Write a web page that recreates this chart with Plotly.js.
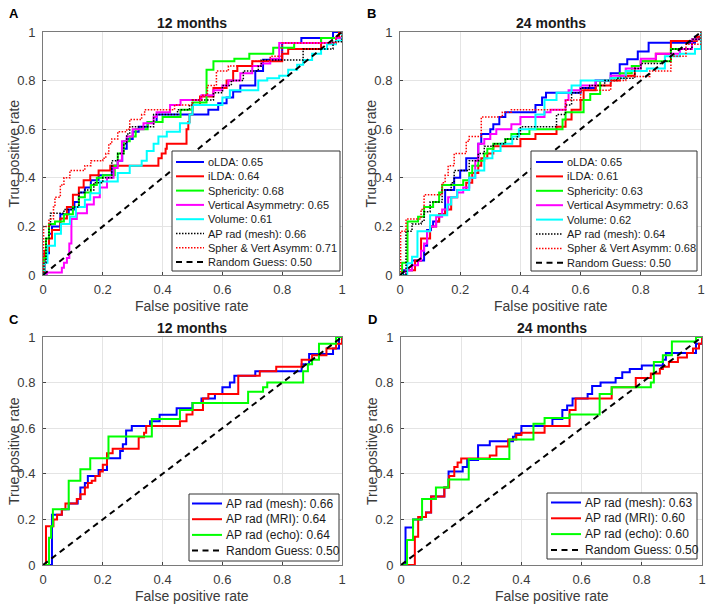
<!DOCTYPE html>
<html>
<head>
<meta charset="utf-8">
<script src="https://cdn.plot.ly/plotly-3.0.1.min.js"></script>
<style>html,body{margin:0;padding:0;background:#fff;}#chart{width:708px;height:609px;}</style>
</head>
<body>
<div id="chart"></div>
<script>
// ---------------- DATA ----------------
// Panel A (12 months) – step ROC curves, points = (FPR reached, TPR after rise)
const fprA_oLDA = [0,0.005,0.02,0.03,0.058,0.086,0.105,0.12,0.14,0.16,0.186,0.23,0.25,0.265,0.28,0.3,0.32,0.35,0.38,0.553,0.586,0.614,0.636,0.66,0.71,0.736,0.8,0.864,0.97,1];
const tprA_oLDA = [0,0.09,0.17,0.2,0.25,0.27,0.3,0.34,0.36,0.39,0.41,0.45,0.47,0.52,0.56,0.59,0.61,0.63,0.66,0.68,0.707,0.73,0.755,0.78,0.84,0.886,0.955,0.975,1,1];
const fprA_iLDA = [0,0.005,0.02,0.03,0.058,0.08,0.1,0.12,0.136,0.158,0.186,0.225,0.386,0.397,0.41,0.414,0.48,0.486,0.49,0.5,0.525,0.57,0.614,0.636,0.65,0.7,0.8,0.82,0.93,0.99,1];
const tprA_iLDA = [0,0.1,0.15,0.185,0.233,0.28,0.33,0.36,0.39,0.41,0.43,0.45,0.48,0.5,0.52,0.54,0.6,0.63,0.66,0.7,0.735,0.77,0.8,0.84,0.86,0.88,0.91,0.93,0.975,1,1];
const fprA_sph = [0,0.003,0.01,0.02,0.04,0.07,0.1,0.12,0.14,0.16,0.18,0.2,0.24,0.25,0.27,0.29,0.31,0.35,0.4,0.46,0.5,0.547,0.57,0.64,0.69,0.77,0.84,0.93,1];
const tprA_sph = [0,0.07,0.15,0.21,0.22,0.25,0.28,0.32,0.34,0.37,0.4,0.41,0.45,0.5,0.55,0.57,0.6,0.63,0.65,0.68,0.71,0.845,0.88,0.89,0.91,0.935,0.955,0.975,1];
const fprA_va = [0,0.013,0.063,0.07,0.08,0.088,0.095,0.113,0.147,0.17,0.19,0.214,0.236,0.25,0.264,0.28,0.3,0.336,0.37,0.38,0.425,0.46,0.53,0.57,0.6,0.62,0.66,0.7,0.73,0.76,0.79,0.98,1];
const tprA_va = [0,0.01,0.03,0.05,0.07,0.13,0.23,0.254,0.29,0.32,0.36,0.4,0.44,0.47,0.55,0.57,0.6,0.625,0.65,0.67,0.7,0.72,0.74,0.76,0.78,0.8,0.83,0.86,0.87,0.89,0.955,0.975,1];
const fprA_vol = [0,0.005,0.015,0.04,0.06,0.09,0.11,0.14,0.158,0.19,0.25,0.29,0.33,0.347,0.37,0.386,0.414,0.458,0.49,0.5,0.6,0.625,0.72,0.75,0.79,0.82,0.85,0.87,0.9,0.93,0.95,0.98,1];
const tprA_vol = [0,0.05,0.12,0.17,0.21,0.24,0.28,0.31,0.336,0.385,0.42,0.45,0.47,0.51,0.54,0.57,0.59,0.625,0.66,0.7,0.73,0.76,0.8,0.81,0.82,0.845,0.865,0.885,0.91,0.93,0.95,0.965,1];
const fprA_ap = [0,0.003,0.01,0.02,0.025,0.07,0.1,0.12,0.14,0.17,0.2,0.23,0.25,0.27,0.28,0.29,0.37,0.45,0.49,0.5,0.57,0.6,0.63,0.67,0.72,0.73,0.87,0.97,1];
const tprA_ap = [0,0.05,0.15,0.2,0.254,0.27,0.28,0.34,0.35,0.38,0.4,0.47,0.5,0.54,0.58,0.61,0.66,0.68,0.7,0.72,0.75,0.78,0.8,0.84,0.86,0.885,0.93,0.96,1];
const fprA_sv = [0,0.002,0.02,0.035,0.04,0.058,0.07,0.09,0.14,0.16,0.2,0.21,0.22,0.23,0.25,0.28,0.29,0.33,0.34,0.44,0.5,0.53,0.55,0.58,0.62,0.7,0.76,0.8,0.98,1];
const tprA_sv = [0,0.2,0.23,0.28,0.32,0.37,0.4,0.43,0.45,0.47,0.48,0.5,0.54,0.56,0.59,0.6,0.64,0.66,0.68,0.7,0.72,0.74,0.78,0.84,0.86,0.88,0.9,0.955,0.98,1];

// Panel B (24 months)
const fprB_oLDA = [0,0.01,0.04,0.08,0.09,0.103,0.11,0.13,0.15,0.18,0.2,0.22,0.26,0.27,0.3,0.31,0.33,0.35,0.45,0.472,0.485,0.6,0.65,0.7,0.73,0.755,0.79,0.826,0.98,1];
const tprB_oLDA = [0,0.02,0.06,0.12,0.185,0.2,0.22,0.25,0.35,0.4,0.43,0.48,0.54,0.58,0.6,0.62,0.65,0.67,0.7,0.73,0.75,0.77,0.8,0.83,0.867,0.888,0.92,0.956,0.98,1];
const fprB_iLDA = [0,0.02,0.05,0.07,0.1,0.12,0.13,0.15,0.17,0.19,0.22,0.24,0.26,0.27,0.29,0.31,0.4,0.45,0.52,0.55,0.57,0.6,0.61,0.65,0.7,0.73,0.78,0.8,0.85,0.9,0.986,1];
const tprB_iLDA = [0,0.02,0.06,0.15,0.2,0.22,0.25,0.27,0.32,0.35,0.38,0.42,0.45,0.48,0.5,0.53,0.56,0.58,0.61,0.64,0.68,0.72,0.76,0.78,0.8,0.82,0.86,0.88,0.91,0.963,0.98,1];
const fprB_sph = [0,0.007,0.025,0.06,0.08,0.11,0.13,0.14,0.21,0.23,0.24,0.26,0.28,0.29,0.31,0.35,0.37,0.43,0.54,0.55,0.61,0.632,0.665,0.7,0.73,0.77,0.8,0.9,0.97,1];
const tprB_sph = [0,0.05,0.22,0.24,0.28,0.3,0.34,0.37,0.39,0.42,0.45,0.47,0.5,0.52,0.54,0.56,0.58,0.6,0.64,0.67,0.72,0.745,0.8,0.81,0.83,0.86,0.88,0.93,0.97,1];
const fprB_va = [0,0.02,0.04,0.06,0.07,0.08,0.09,0.1,0.12,0.14,0.16,0.19,0.21,0.23,0.25,0.26,0.28,0.3,0.32,0.37,0.4,0.48,0.5,0.55,0.56,0.6,0.65,0.7,0.75,0.8,0.85,0.93,0.97,1];
const tprB_va = [0,0.02,0.04,0.06,0.1,0.13,0.18,0.2,0.24,0.27,0.32,0.34,0.36,0.4,0.47,0.54,0.56,0.58,0.6,0.62,0.65,0.67,0.68,0.72,0.76,0.78,0.8,0.82,0.85,0.89,0.91,0.93,0.97,1];
const fprB_vol = [0,0.024,0.04,0.058,0.1,0.157,0.17,0.19,0.23,0.25,0.28,0.307,0.334,0.373,0.395,0.45,0.48,0.52,0.57,0.6,0.7,0.75,0.82,0.88,0.93,0.98,1,1];
const tprB_vol = [0,0.048,0.075,0.18,0.246,0.29,0.32,0.35,0.4,0.43,0.48,0.51,0.54,0.57,0.6,0.66,0.72,0.75,0.78,0.8,0.81,0.84,0.85,0.9,0.91,0.93,0.96,1];
const fprB_ap = [0,0.02,0.04,0.07,0.08,0.1,0.14,0.17,0.18,0.23,0.26,0.28,0.31,0.35,0.39,0.4,0.52,0.55,0.57,0.6,0.63,0.68,0.72,0.78,0.8,0.87,0.9,0.97,1];
const tprB_ap = [0,0.18,0.21,0.22,0.26,0.3,0.35,0.38,0.43,0.47,0.5,0.53,0.54,0.56,0.58,0.61,0.66,0.7,0.75,0.77,0.78,0.8,0.81,0.85,0.87,0.88,0.93,0.97,1];
const fprB_sv = [0,0.002,0.02,0.07,0.08,0.14,0.15,0.16,0.18,0.22,0.23,0.27,0.34,0.37,0.55,0.6,0.7,0.75,0.83,0.9,0.95,1];
const tprB_sv = [0,0.18,0.23,0.27,0.33,0.38,0.41,0.45,0.5,0.55,0.57,0.65,0.67,0.68,0.72,0.76,0.8,0.817,0.84,0.9,0.95,1];

// Panel C (12 months, AP radius)
const fprC_mesh = [0,0.03,0.063,0.086,0.116,0.125,0.14,0.15,0.186,0.214,0.258,0.267,0.278,0.297,0.358,0.39,0.447,0.5,0.53,0.575,0.6,0.625,0.64,0.71,0.865,0.89,0.97,0.99,1];
const tprC_mesh = [0,0.22,0.245,0.27,0.29,0.34,0.36,0.39,0.417,0.468,0.5,0.53,0.59,0.61,0.63,0.659,0.688,0.71,0.73,0.75,0.78,0.8,0.83,0.85,0.88,0.925,0.95,1,1];
const fprC_mri = [0,0.01,0.035,0.047,0.063,0.075,0.113,0.125,0.14,0.15,0.163,0.175,0.19,0.2,0.214,0.233,0.32,0.338,0.345,0.458,0.48,0.5,0.535,0.553,0.653,0.725,0.78,0.865,0.9,0.948,0.98,1];
const tprC_mri = [0,0.17,0.2,0.22,0.245,0.27,0.29,0.31,0.34,0.36,0.37,0.39,0.41,0.44,0.49,0.51,0.56,0.58,0.61,0.63,0.66,0.68,0.73,0.75,0.83,0.85,0.87,0.9,0.92,0.95,0.97,1];
const fprC_echo = [0,0.02,0.027,0.033,0.086,0.125,0.158,0.219,0.364,0.458,0.5,0.686,0.736,0.75,0.87,0.886,0.9,0.923,0.98,1];
const tprC_echo = [0,0.12,0.17,0.245,0.37,0.42,0.468,0.564,0.64,0.68,0.71,0.76,0.78,0.8,0.85,0.88,0.9,0.97,1,1];

// Panel D (24 months, AP radius)
const fprD_mesh = [0,0.015,0.04,0.066,0.083,0.1,0.144,0.158,0.205,0.22,0.256,0.295,0.372,0.38,0.4,0.503,0.536,0.552,0.57,0.62,0.635,0.663,0.713,0.735,0.76,0.8,0.87,0.88,0.98,1];
const tprD_mesh = [0,0.165,0.2,0.21,0.23,0.3,0.34,0.41,0.43,0.46,0.525,0.543,0.562,0.577,0.61,0.64,0.68,0.7,0.73,0.75,0.785,0.8,0.82,0.845,0.86,0.875,0.9,0.93,0.97,1];
const fprD_mri = [0,0.046,0.057,0.083,0.1,0.144,0.16,0.177,0.188,0.2,0.295,0.317,0.356,0.383,0.4,0.477,0.56,0.58,0.7,0.78,0.83,0.86,0.87,0.89,0.92,0.95,0.97,0.99,1];
const tprD_mri = [0,0.124,0.21,0.23,0.3,0.34,0.39,0.43,0.45,0.467,0.48,0.52,0.55,0.57,0.58,0.61,0.68,0.73,0.78,0.82,0.84,0.86,0.87,0.89,0.91,0.93,0.95,0.97,1];
const fprD_echo = [0,0.02,0.04,0.07,0.116,0.157,0.225,0.36,0.44,0.477,0.56,0.66,0.7,0.83,0.84,0.87,0.9,0.98,1];
const tprD_echo = [0,0.11,0.2,0.29,0.34,0.375,0.465,0.55,0.62,0.645,0.66,0.75,0.78,0.8,0.89,0.92,0.98,1,1];

// Chance line
const fprRandom = [0, 1];
const tprRandom = [0, 1];

// Legend labels and AUC values
const methodsAB = ['oLDA','iLDA','Sphericity','Vertical Asymmetry','Volume','AP rad (mesh)','Spher & Vert Asymm','Random Guess'];
const aucA = ['0.65','0.64','0.68','0.65','0.61','0.66','0.71','0.50'];
const aucB = ['0.65','0.61','0.63','0.63','0.62','0.64','0.68','0.50'];
const methodsCD = ['AP rad (mesh)','AP rad (MRI)','AP rad (echo)','Random Guess'];
const aucC = ['0.66','0.64','0.64','0.50'];
const aucD = ['0.63','0.60','0.60','0.50'];
const panelTitles = ['12 months','24 months','12 months','24 months'];
const panelLetters = ['A','B','C','D'];
const tickVals = [0,0.2,0.4,0.6,0.8,1];
const tickText = ['0','0.2','0.4','0.6','0.8','1'];

// ---------------- STYLE ----------------
const W = 708, H = 609;
const FONT = 'Liberation Sans, Arial, Helvetica, sans-serif';
const stylesAB = [
  {color:'#0000ff', width:2, dash:'solid'},
  {color:'#ff0000', width:2, dash:'solid'},
  {color:'#00ff00', width:2, dash:'solid'},
  {color:'#ff00ff', width:2, dash:'solid'},
  {color:'#00ffff', width:2, dash:'solid'},
  {color:'#000000', width:1.5, dash:'1.5px,1.5px'},
  {color:'#ff0000', width:1.5, dash:'1.5px,1.5px'},
  {color:'#000000', width:2, dash:'6px,4.5px'}
];
const stylesCD = [stylesAB[0], stylesAB[1], stylesAB[2], stylesAB[7]];

const seriesA = [[fprA_oLDA,tprA_oLDA],[fprA_iLDA,tprA_iLDA],[fprA_sph,tprA_sph],[fprA_va,tprA_va],[fprA_vol,tprA_vol],[fprA_ap,tprA_ap],[fprA_sv,tprA_sv],[fprRandom,tprRandom]];
const seriesB = [[fprB_oLDA,tprB_oLDA],[fprB_iLDA,tprB_iLDA],[fprB_sph,tprB_sph],[fprB_va,tprB_va],[fprB_vol,tprB_vol],[fprB_ap,tprB_ap],[fprB_sv,tprB_sv],[fprRandom,tprRandom]];
const seriesC = [[fprC_mesh,tprC_mesh],[fprC_mri,tprC_mri],[fprC_echo,tprC_echo],[fprRandom,tprRandom]];
const seriesD = [[fprD_mesh,tprD_mesh],[fprD_mri,tprD_mri],[fprD_echo,tprD_echo],[fprRandom,tprRandom]];

const panels = [
  {series:seriesA, names:methodsAB, auc:aucA, styles:stylesAB, ax:'', xdom:[43,342], ydom:[32,275],
   leg:{box:[172,340,151,271], row0:162, step:14.3, l0:176, l1:204, tx:206, fs:11}},
  {series:seriesB, names:methodsAB, auc:aucB, styles:stylesAB, ax:'2', xdom:[400,701], ydom:[32,275],
   leg:{box:[531,697,151,271], row0:162, step:14.4, l0:536, l1:563, tx:565, fs:11}},
  {series:seriesC, names:methodsCD, auc:aucC, styles:stylesCD, ax:'3', xdom:[43,342], ydom:[337,565],
   leg:{box:[189,339,494,561], row0:503.5, step:15.7, l0:192, l1:222, tx:224, fs:12}},
  {series:seriesD, names:methodsCD, auc:aucD, styles:stylesCD, ax:'4', xdom:[401,702], ydom:[337,565],
   leg:{box:[547,697,493,559], row0:502.5, step:15.8, l0:551, l1:581, tx:583, fs:12}}
];

const px = v => v / W;
const py = v => 1 - v / H;

const traces = [];
const layout = {
  width: W, height: H,
  margin: {l:0, r:0, t:0, b:0},
  paper_bgcolor: '#ffffff', plot_bgcolor: '#ffffff',
  showlegend: false,
  font: {family: FONT, color: '#262626'},
  shapes: [], annotations: []
};

function axisCfg(domain, anchor) {
  return {
    domain: domain, anchor: anchor, range: [0, 1], fixedrange: true,
    tickmode: 'array', tickvals: tickVals, ticktext: tickText,
    ticks: 'inside', ticklen: 3, tickcolor: '#444',
    showgrid: true, gridcolor: '#e4e4e4', gridwidth: 1,
    zeroline: false, showline: true, linecolor: '#7a7a7a', linewidth: 1, mirror: true,
    tickfont: {family: FONT, size: 13, color: '#3a3a3a'}
  };
}

panels.forEach((p, k) => {
  const xa = 'x' + p.ax, ya = 'y' + p.ax;
  layout['xaxis' + p.ax] = axisCfg([px(p.xdom[0]), px(p.xdom[1])], ya);
  layout['yaxis' + p.ax] = axisCfg([py(p.ydom[1]), py(p.ydom[0])], xa);
  layout['xaxis' + p.ax].ticklabelstandoff = 2;
  layout['yaxis' + p.ax].ticklabelstandoff = 4;

  p.series.forEach((s, i) => {
    const st = p.styles[i];
    const isRandom = (i === p.series.length - 1);
    traces.push({
      type: 'scatter', mode: 'lines', x: s[0], y: s[1],
      xaxis: xa, yaxis: ya, name: p.names[i] + ': ' + p.auc[i],
      line: {color: st.color, width: st.width, dash: st.dash, shape: isRandom ? 'linear' : 'hv'},
      hoverinfo: 'skip'
    });
  });

  const cx = (p.xdom[0] + p.xdom[1]) / 2;
  // panel title
  layout.annotations.push({text: '<b>' + panelTitles[k] + '</b>', xref:'paper', yref:'paper',
    x: px(cx), y: py(p.ydom[0] - 9), xanchor:'center', yanchor:'middle', showarrow:false,
    font:{family:FONT, size:14, color:'#1a1a1a'}});
  // panel letter
  layout.annotations.push({text: '<b>' + panelLetters[k] + '</b>', xref:'paper', yref:'paper',
    x: px(p.xdom[0] - 29), y: py(p.ydom[0] - 18), xanchor:'center', yanchor:'middle', showarrow:false,
    font:{family:FONT, size:13, color:'#000'}});
  // axis titles
  layout.annotations.push({text: 'False positive rate', xref:'paper', yref:'paper',
    x: px(cx), y: py(p.ydom[1] + 31), xanchor:'center', yanchor:'middle', showarrow:false,
    font:{family:FONT, size:14, color:'#3a3a3a'}});
  layout.annotations.push({text: 'True positive rate', xref:'paper', yref:'paper', textangle:-90,
    x: px(p.xdom[0] - 29), y: py((p.ydom[0] + p.ydom[1]) / 2), xanchor:'center', yanchor:'middle', showarrow:false,
    font:{family:FONT, size:14, color:'#3a3a3a'}});

  // legend box
  const L = p.leg;
  layout.shapes.push({type:'rect', xref:'paper', yref:'paper', x0:px(L.box[0]), x1:px(L.box[1]),
    y0:py(L.box[3]), y1:py(L.box[2]), fillcolor:'#ffffff', line:{color:'#333333', width:1}, layer:'above'});
  p.names.forEach((nm, i) => {
    const st = p.styles[i];
    const yy = L.row0 + i * L.step;
    layout.shapes.push({type:'line', xref:'paper', yref:'paper', x0:px(L.l0), x1:px(L.l1), y0:py(yy), y1:py(yy),
      line:{color:st.color, width:st.width, dash:st.dash}, layer:'above'});
    layout.annotations.push({text: nm + ': ' + p.auc[i], xref:'paper', yref:'paper', x:px(L.tx), y:py(yy),
      xanchor:'left', yanchor:'middle', showarrow:false, font:{family:FONT, size:L.fs, color:'#1a1a1a'}});
  });
});

Plotly.newPlot('chart', traces, layout, {displayModeBar:false, staticPlot:true});
</script>
</body>
</html>
